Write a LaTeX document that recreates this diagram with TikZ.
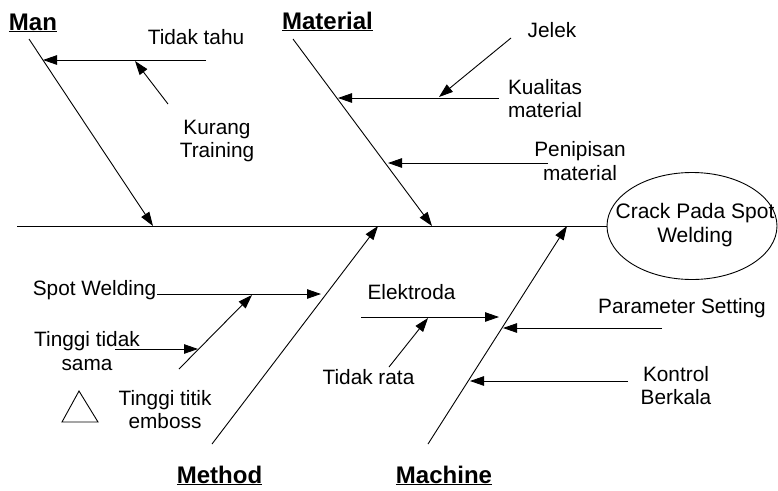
\documentclass[tikz,border=0pt]{standalone}
\usepackage{fontspec}
\setmainfont{Liberation Sans}
\usetikzlibrary{arrows.meta,shapes.geometric}
\begin{document}
\begin{tikzpicture}[x=1pt,y=-1pt,
  line width=0.9pt,
  arr/.style={-{Triangle[length=14pt,width=9.5pt]}},
  lbl/.style={font=\fontsize{20.8}{23.7}\selectfont, align=center, inner sep=0pt},
  head/.style={font=\fontsize{24}{28}\selectfont\bfseries, inner sep=0pt, anchor=base}]
\useasboundingbox (0,0) rectangle (778,490);

% effect (head of the fish)
\node[draw, ellipse, minimum width=170, minimum height=107, inner sep=0pt] (effect) at (692,226) {};
\node[lbl, font=\fontsize{21}{24}\selectfont] (effecttext) at (695,225) {Crack Pada Spot\\Welding};

% spine
\coordinate (tail) at (17,226);
\draw (tail) -- (effect.west);

% main bones
\coordinate (manTop) at (29,39);       \coordinate (manEnd) at (153,226);
\coordinate (matTop) at (293,39);      \coordinate (matEnd) at (432,226);
\coordinate (metBot) at (212,444);     \coordinate (metEnd) at (378,226);
\coordinate (macBot) at (428,444);     \coordinate (macEnd) at (567,226);
\draw[arr] (manTop) -- (manEnd);
\draw[arr] (matTop) -- (matEnd);
\draw[arr] (metBot) -- (metEnd);
\draw[arr] (macBot) -- (macEnd);

% category headings
\node[head] (man) at (33,30) {\underline{Man}};
\node[head] (material) at (327.5,29) {\underline{Material}};
\node[head] (method) at (219.5,483) {\underline{Method}};
\node[head] (machine) at (444,483) {\underline{Machine}};

% Man causes
\coordinate (tt1) at (206,60);  \coordinate (tt2) at (43,60);
\coordinate (kt1) at (168,104); \coordinate (kt2) at (135,61);
\draw[arr] (tt1) -- (tt2);
\draw[arr] (kt1) -- (kt2);
\node[lbl] (tidaktahu) at (196,37) {Tidak tahu};
\node[lbl] (kurang) at (217,141) {Kurang\\Training};

% Material causes
\coordinate (je1) at (511,38);  \coordinate (je2) at (439,97);
\coordinate (kq1) at (499,98);  \coordinate (kq2) at (338,98);
\coordinate (pm1) at (548,163); \coordinate (pm2) at (388,163);
\draw[arr] (je1) -- (je2);
\draw[arr] (kq1) -- (kq2);
\draw[arr] (pm1) -- (pm2);
\node[lbl] (jelek) at (552,30) {Jelek};
\node[lbl] (kualitas) at (545,98.5) {Kualitas\\material};
\node[lbl] (penipisan) at (580,161) {Penipisan\\material};

% Method causes
\coordinate (sw1) at (157,294); \coordinate (sw2) at (321,294);
\coordinate (ss1) at (179,369); \coordinate (ss2) at (252,295);
\coordinate (tg1) at (115,349); \coordinate (tg2) at (198,349);
\draw[arr] (sw1) -- (sw2);
\draw[arr] (ss1) -- (ss2);
\draw[arr] (tg1) -- (tg2);
\node[lbl] (spotwelding) at (94.5,290) {Spot Welding};
\node[lbl] (tinggitidak) at (87,351) {Tinggi tidak\\sama};
\node[lbl] (tinggititik) at (165,409.5) {Tinggi titik\\emboss};
\draw (62,422) -- (98,422) -- (79,391) -- cycle;

% Machine causes
\coordinate (el1) at (361,317); \coordinate (el2) at (499,317);
\coordinate (tr1) at (389,367); \coordinate (tr2) at (428,318);
\coordinate (ps1) at (662,328); \coordinate (ps2) at (503,328);
\coordinate (kb1) at (628,381); \coordinate (kb2) at (470,381);
\draw[arr] (el1) -- (el2);
\draw[arr] (tr1) -- (tr2);
\draw[arr] (ps1) -- (ps2);
\draw[arr] (kb1) -- (kb2);
\node[lbl] (elektroda) at (411.5,292) {Elektroda};
\node[lbl] (tidakrata) at (368.5,377) {Tidak rata};
\node[lbl] (parameter) at (682,308) {Parameter Setting};
\node[lbl] (kontrol) at (676,385.5) {Kontrol\\Berkala};
\end{tikzpicture}
\end{document}
